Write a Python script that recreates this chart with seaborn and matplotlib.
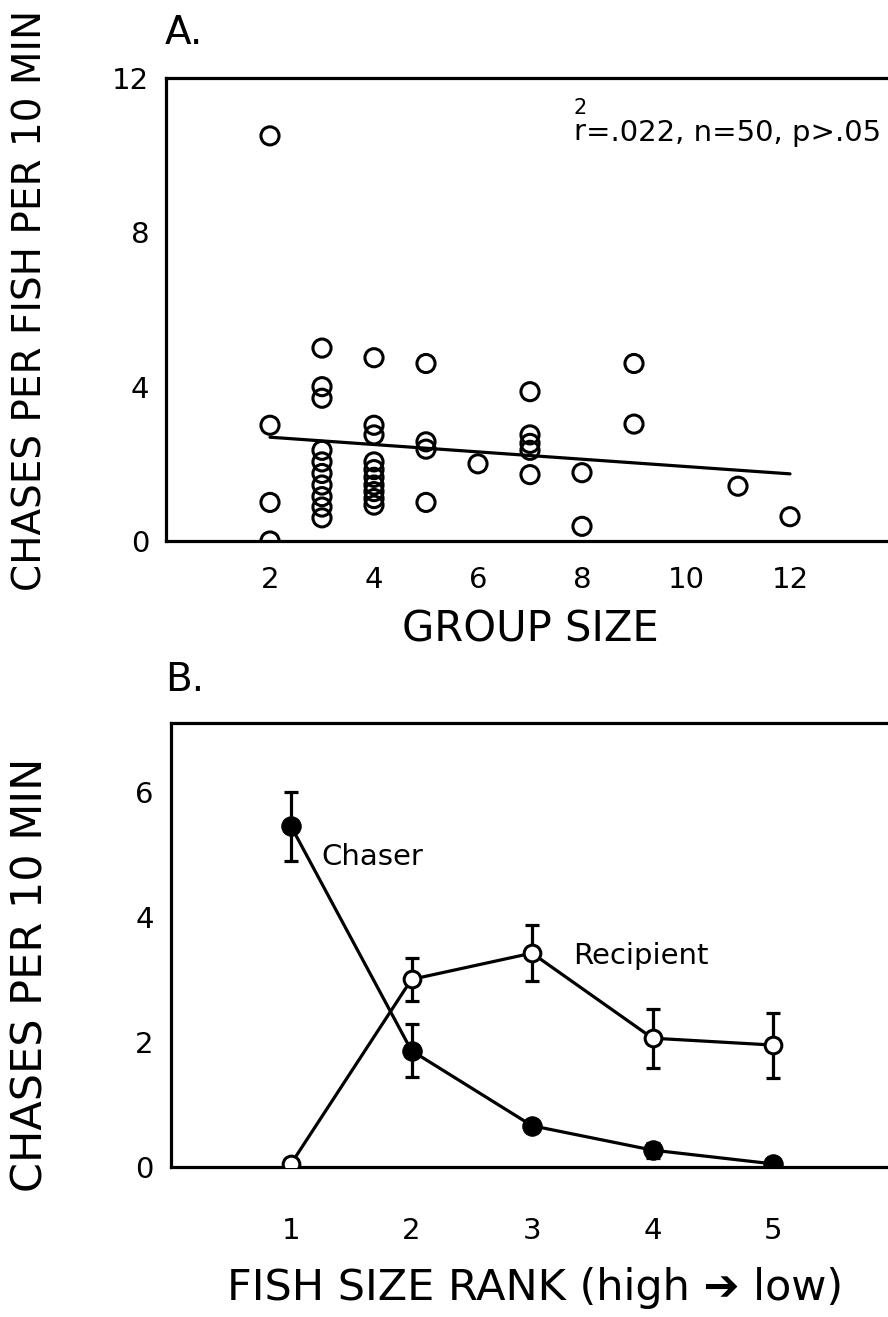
import numpy as np
import pandas as pd
import matplotlib
matplotlib.use("Agg")
import matplotlib.pyplot as plt
import seaborn as sns

# ---- Panel A: chase rate per fish against group size ----
group_size = [2, 2, 2, 2,
              3, 3, 3, 3, 3, 3, 3, 3, 3, 3,
              4, 4, 4, 4, 4, 4, 4, 4, 4, 4,
              5, 5, 5, 5,
              6,
              7, 7, 7, 7, 7,
              8, 8,
              9, 9,
              11,
              12]
chases_per_fish = [10.5, 3.0, 1.0, 0.0,
                   5.0, 4.0, 3.7, 2.35, 2.05, 1.75, 1.45, 1.15, 0.88, 0.6,
                   4.75, 3.0, 2.75, 2.05, 1.85, 1.65, 1.45, 1.28, 1.1, 0.93,
                   4.6, 2.57, 2.38, 1.0,
                   2.0,
                   3.87, 2.75, 2.53, 2.35, 1.72,
                   1.77, 0.38,
                   4.6, 3.03,
                   1.42,
                   0.63]
fit_intercept = 2.88
fit_slope = -0.095
fit_range = [2, 12]
stats_text = "=.022, n=50, p>.05"

# ---- Panel B: chase rates by fish size rank ----
size_rank = [1, 2, 3, 4, 5]
chaser_mean = [5.45, 1.86, 0.66, 0.27, 0.05]
chaser_sem = [0.55, 0.42, 0.0, 0.12, 0.0]
recipient_mean = [0.05, 3.0, 3.42, 2.06, 1.95]
recipient_sem = [0.08, 0.34, 0.45, 0.47, 0.52]

sns.set_theme(style="white")
plt.rcParams["font.family"] = ["DejaVu Sans"]
plt.rcParams["text.color"] = "black"
plt.rcParams["axes.labelcolor"] = "black"

W, H = 888, 1317
fig = plt.figure(figsize=(W / 100, H / 100), dpi=100)


def px_axes(left, top, right, bottom):
    return fig.add_axes([left / W, 1 - bottom / H, (right - left) / W, (bottom - top) / H])


def style_axes(ax, xpad):
    for side in ("left", "bottom", "top"):
        ax.spines[side].set_color("black")
        ax.spines[side].set_linewidth(2.3)
    ax.spines["right"].set_visible(False)
    ax.tick_params(axis="both", which="both", direction="in", colors="black",
                   labelcolor="black", labelsize=21, width=1.6, length=6,
                   top=False, right=False)
    ax.tick_params(axis="y", pad=12)
    ax.tick_params(axis="x", pad=xpad)


# Panel A: open-circle scatter with the fitted regression line
axA = px_axes(166, 78, 894, 541)
dfA = pd.DataFrame({"group": group_size, "rate": chases_per_fish})
sns.scatterplot(data=dfA, x="group", y="rate", ax=axA, s=170, marker="o",
                facecolor="none", edgecolor="black", linewidth=2.2, zorder=3)
fx = np.array(fit_range, dtype=float)
axA.plot(fx, fit_intercept + fit_slope * fx, color="black", lw=2.3, zorder=2)
axA.set_xlim(0, 14)
axA.set_ylim(0, 12)
axA.set_xticks([2, 4, 6, 8, 10, 12])
axA.set_yticks([0, 4, 8, 12])
axA.set_yticks([2, 6, 10], minor=True)
axA.set_xlabel("")
axA.set_ylabel("")
style_axes(axA, xpad=18)

# statistics note, with r and its superscript placed just left of it
stat = axA.text(0.982, 0.865, stats_text, transform=axA.transAxes, ha="right",
                va="baseline", fontsize=21)
fig.canvas.draw()
bb = stat.get_window_extent(fig.canvas.get_renderer())
fig.text(bb.x0 / W, 1 - 140 / H, "r", ha="right", va="baseline", fontsize=21)
fig.text((bb.x0 + 1) / W, 1 - 114 / H, "2", ha="right", va="baseline", fontsize=15)

# Panel B: mean chase rates with error bars
axB = px_axes(170.5, 723, 893.5, 1167)
dfB = pd.DataFrame({
    "rank": size_rank * 2,
    "rate": chaser_mean + recipient_mean,
    "role": ["Chaser"] * 5 + ["Recipient"] * 5,
})
axB.errorbar(size_rank, chaser_mean, yerr=chaser_sem, fmt="none", ecolor="black",
             elinewidth=2.3, capsize=5, capthick=2.3, zorder=1)
axB.errorbar(size_rank, recipient_mean, yerr=recipient_sem, fmt="none", ecolor="black",
             elinewidth=2.3, capsize=5, capthick=2.3, zorder=1)
sns.lineplot(data=dfB[dfB.role == "Chaser"], x="rank", y="rate", ax=axB,
             color="black", lw=2.3, marker="o", markersize=14,
             markerfacecolor="black", markeredgecolor="black", zorder=3)
sns.lineplot(data=dfB[dfB.role == "Recipient"], x="rank", y="rate", ax=axB,
             color="black", lw=2.3, marker="o", markersize=12,
             markerfacecolor="white", markeredgecolor="black", markeredgewidth=2.2,
             zorder=3)
axB.set_xlim(0, 6)
axB.set_ylim(0, 7.1)
axB.set_xticks([1, 2, 3, 4, 5])
axB.set_yticks([0, 2, 4, 6])
axB.set_yticks([1, 3, 5], minor=True)
axB.set_xlabel("")
axB.set_ylabel("")
style_axes(axB, xpad=36)
axB.text(1.25, 4.96, "Chaser", fontsize=21, va="center", ha="left")
axB.text(3.34, 3.37, "Recipient", fontsize=21, va="center", ha="left")

# Panel letters and axis titles
fig.text(165 / W, 1 - 33 / H, "A.", fontsize=28, ha="left", va="center")
fig.text(165 / W, 1 - 680 / H, "B.", fontsize=28, ha="left", va="center")
fig.text(31 / W, 1 - 300 / H, "CHASES PER FISH PER 10 MIN", rotation=90,
         fontsize=28, ha="center", va="center")
fig.text(31 / W, 1 - 975 / H, "CHASES PER 10 MIN", rotation=90,
         fontsize=31, ha="center", va="center")
fig.text(530 / W, 1 - 630 / H, "GROUP SIZE", fontsize=30, ha="center", va="center")
fig.text(535 / W, 1 - 1288 / H, "FISH SIZE RANK (high \u2794 low)", fontsize=31,
         ha="center", va="center")

fig.savefig("out.png", dpi=100)
